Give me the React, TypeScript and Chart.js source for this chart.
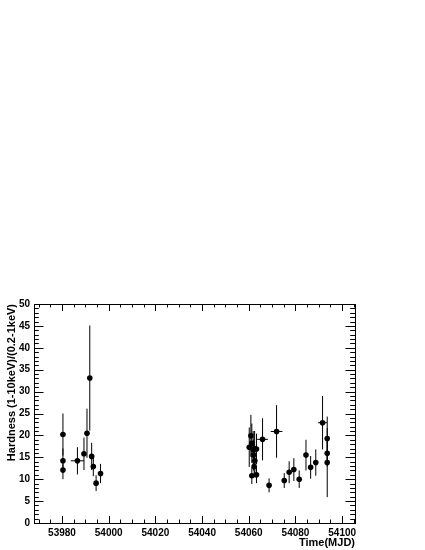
import React, { useEffect, useRef } from "react";
import { Chart, registerables } from "chart.js";

Chart.register(...registerables);

// ---- data ----
const obsTime = [
  53980.4, 53980.4, 53980.4, 53986.6, 53989.4, 53990.7, 53991.9, 53992.7, 53993.4, 53994.6, 53996.5,
  54060.2, 54060.9, 54061.3, 54061.9, 54062.5, 54063.3, 54062.0, 54062.6, 54062.3, 54061.3, 54063.3,
  54065.9, 54068.7, 54071.9, 54075.2, 54077.3, 54079.3, 54081.6, 54084.5, 54086.5, 54088.7, 54091.6,
  54093.6, 54093.6, 54093.6,
];
const hardness = [
  20.2, 14.2, 12.1, 14.2, 15.8, 20.5, 33.1, 15.2, 12.9, 9.1, 11.3,
  17.3, 19.9, 18.2, 16.8, 17.0, 16.9, 15.5, 14.2, 12.9, 10.8, 11.0,
  19.1, 8.6, 20.9, 9.7, 11.6, 12.2, 10.0, 15.5, 12.7, 13.8, 22.9,
  19.3, 15.9, 13.8,
];
const timeErr = [
  0.3, 0.3, 0.3, 2.85, 0.3, 0.3, 0.3, 0.3, 0.3, 0.3, 1.0,
  0.3, 0.3, 0.3, 0.3, 0.3, 0.3, 0.3, 0.3, 0.3, 0.3, 0.3,
  2.3, 0.3, 2.5, 0.3, 0.3, 0.3, 0.3, 0.3, 0.3, 0.3, 1.9,
  0.3, 0.3, 0.3,
];
const hardnessErr = [
  4.8, 2.8, 2.1, 3.1, 3.7, 5.6, 12.0, 3.1, 2.2, 1.8, 2.2,
  4.5, 4.8, 4.5, 4.2, 4.0, 3.5, 3.5, 3.0, 2.5, 1.9, 1.9,
  4.8, 1.6, 6.0, 1.7, 2.5, 2.6, 2.0, 3.5, 2.6, 3.0, 6.1,
  5.0, 3.0, 7.9,
];

const xTickLabels = [53980, 54000, 54020, 54040, 54060, 54080, 54100];
const yTickLabels = [0, 5, 10, 15, 20, 25, 30, 35, 40, 45, 50];
const xMinorStep = 5;
const yMinorStep = 1;
const X_MIN = 53968;
const X_MAX = 54105.5;
const Y_MIN = 0;
const Y_MAX = 50;

const FONT = "'Liberation Sans', Arial, Helvetica, sans-serif";

const errorBarPlugin = {
  id: "errorBars",
  beforeDatasetsDraw(chart: any) {
    const { ctx, scales } = chart;
    const xs = scales.x;
    const ys = scales.y;
    ctx.save();
    ctx.strokeStyle = "#000";
    ctx.lineWidth = 1;
    ctx.beginPath();
    for (let i = 0; i < obsTime.length; i++) {
      const px = xs.getPixelForValue(obsTime[i]);
      const py = ys.getPixelForValue(hardness[i]);
      const y1 = ys.getPixelForValue(hardness[i] - hardnessErr[i]);
      const y2 = ys.getPixelForValue(hardness[i] + hardnessErr[i]);
      const x1 = xs.getPixelForValue(obsTime[i] - timeErr[i]);
      const x2 = xs.getPixelForValue(obsTime[i] + timeErr[i]);
      ctx.moveTo(px, y1);
      ctx.lineTo(px, y2);
      ctx.moveTo(x1, py);
      ctx.lineTo(x2, py);
    }
    ctx.stroke();
    ctx.restore();
  },
};

const framePlugin = {
  id: "rootFrame",
  afterDatasetsDraw(chart: any) {
    const { ctx, chartArea, scales } = chart;
    const { left, right, top, bottom } = chartArea;
    const xs = scales.x;
    const ys = scales.y;
    ctx.save();
    ctx.strokeStyle = "#000";
    ctx.lineWidth = 1;
    ctx.beginPath();
    const xStart = Math.ceil(X_MIN / xMinorStep) * xMinorStep;
    for (let v = xStart; v <= X_MAX; v += xMinorStep) {
      const major = xTickLabels.includes(v);
      const len = major ? 7 : 3.5;
      const p = Math.round(xs.getPixelForValue(v)) + 0.5;
      ctx.moveTo(p, bottom);
      ctx.lineTo(p, bottom - len);
      ctx.moveTo(p, top);
      ctx.lineTo(p, top + len);
    }
    for (let v = Y_MIN; v <= Y_MAX; v += yMinorStep) {
      const major = yTickLabels.includes(v);
      const len = major ? 9.5 : 4.8;
      const p = Math.round(ys.getPixelForValue(v)) + 0.5;
      ctx.moveTo(left, p);
      ctx.lineTo(left + len, p);
      ctx.moveTo(right, p);
      ctx.lineTo(right - len, p);
    }
    ctx.stroke();
    ctx.strokeRect(Math.round(left) + 0.5, Math.round(top) + 0.5, Math.round(right - left), Math.round(bottom - top));
    ctx.restore();
  },
};

export default function App() {
  const canvasRef = useRef<HTMLCanvasElement | null>(null);

  useEffect(() => {
    const canvas = canvasRef.current;
    if (!canvas) return;
    const chart = new Chart(canvas, {
      type: "scatter",
      data: {
        datasets: [
          {
            label: "Hardness",
            data: obsTime.map((t, i) => ({ x: t, y: hardness[i] })),
            pointRadius: 2.8,
            pointHoverRadius: 2.8,
            pointBackgroundColor: "#000",
            pointBorderWidth: 0,
            showLine: false,
          },
        ],
      },
      options: {
        responsive: false,
        animation: false,
        devicePixelRatio: 1,
        layout: { padding: { left: 3, right: 70, top: 304, bottom: 0 } },
        plugins: {
          legend: { display: false },
          tooltip: { enabled: false },
        },
        scales: {
          x: {
            type: "linear",
            min: X_MIN,
            max: X_MAX,
            afterBuildTicks: (s: any) => {
              s.ticks = xTickLabels.map((v) => ({ value: v }));
            },
            afterFit: (s: any) => {
              s.height = 27;
            },
            grid: { display: false, drawTicks: false },
            border: { display: false },
            ticks: {
              autoSkip: false,
              maxRotation: 0,
              minRotation: 0,
              padding: 4,
              color: "#000",
              font: { family: FONT, size: 10, weight: "bold" },
              callback: (v: any) => String(v),
            },
            title: {
              display: true,
              text: "Time(MJD)",
              align: "end",
              color: "#000",
              padding: { top: 0, bottom: 0 },
              font: { family: FONT, size: 11, weight: "bold" },
            },
          },
          y: {
            type: "linear",
            min: Y_MIN,
            max: Y_MAX,
            afterBuildTicks: (s: any) => {
              s.ticks = yTickLabels.map((v) => ({ value: v }));
            },
            afterFit: (s: any) => {
              s.width = 31;
            },
            grid: { display: false, drawTicks: false },
            border: { display: false },
            ticks: {
              padding: 4,
              color: "#000",
              font: { family: FONT, size: 10, weight: "bold" },
              callback: (v: any) => String(v),
            },
            title: {
              display: true,
              text: "Hardness (1-10keV)/(0.2-1keV)",
              align: "end",
              color: "#000",
              padding: { top: 2, bottom: 0 },
              font: { family: FONT, size: 11, weight: "bold" },
            },
          },
        },
      },
      plugins: [errorBarPlugin, framePlugin],
    });
    return () => chart.destroy();
  }, []);

  return (
    <div style={{ position: "absolute", left: 0, top: 0, width: 425, height: 550, background: "#fff" }}>
      <canvas ref={canvasRef} width={425} height={550} style={{ width: 425, height: 550, display: "block" }} />
    </div>
  );
}
